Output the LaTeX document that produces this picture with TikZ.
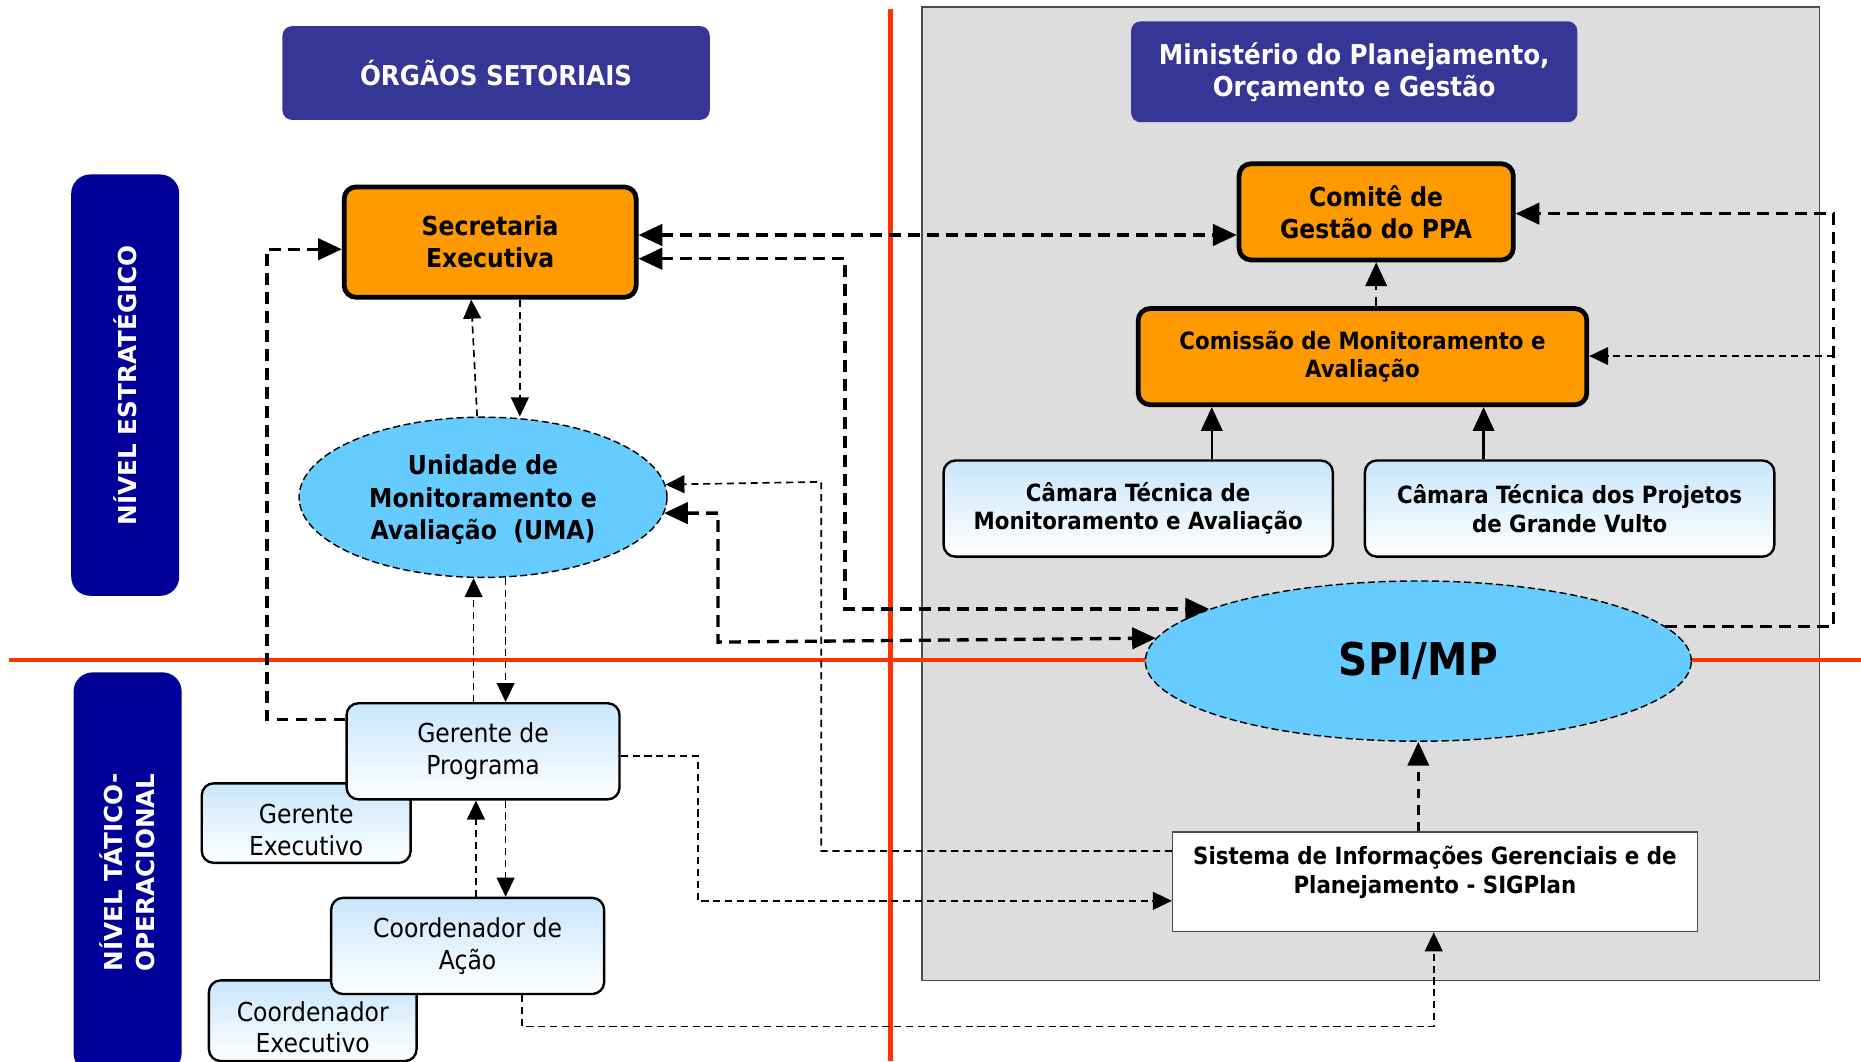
\documentclass[tikz,border=0pt]{standalone}
\usepackage{fontspec}
\setmainfont{DejaVu Sans}
\newfontfamily\tah{DejaVu Sans Condensed}
\usetikzlibrary{arrows.meta,shapes.geometric}
\definecolor{hdrblue}{HTML}{363696}
\definecolor{navy}{HTML}{000099}
\definecolor{orng}{HTML}{FF9900}
\definecolor{skyb}{HTML}{66CCFF}
\definecolor{paleb}{HTML}{C8E6FC}
\definecolor{bggray}{HTML}{DDDDDD}
\definecolor{redl}{HTML}{FF3300}
\begin{document}
\begin{tikzpicture}[x=0.5pt,y=-0.5pt,
  hdr/.style={fill=hdrblue, rounded corners=4pt, text=white, align=center, inner sep=0pt,
    font=\tah\bfseries\fontsize{11.5}{13.5}\selectfont},
  lvl/.style={fill=navy, rounded corners=8pt, text=white, align=center, inner sep=0pt,
    font=\bfseries\fontsize{10.4}{13.5}\selectfont},
  obox/.style={fill=orng, draw=black, line width=2pt, rounded corners=5pt, align=center, inner sep=0pt},
  cbox/.style={top color=paleb, bottom color=white, draw=black, line width=1pt, rounded corners=5pt,
    align=center, inner sep=0pt},
  ell/.style={ellipse, fill=skyb, draw=black, dash pattern=on 3pt off 1.5pt, line width=0.6pt,
    inner sep=0pt, align=center},
  bf11/.style={font=\tah\bfseries\fontsize{11}{13.5}\selectfont},
  bf10/.style={font=\tah\bfseries\fontsize{10}{12}\selectfont},
  rg11/.style={font=\tah\fontsize{11}{13.3}\selectfont},
  thk/.style={dash pattern=on 5pt off 3pt, line width=1.4pt},
  thn/.style={dash pattern=on 3pt off 2pt, line width=0.7pt},
  tipA/.style={-{Triangle[length=10pt,width=9pt]}},
  tipB/.style={{Triangle[length=10pt,width=9pt]}-{Triangle[length=10pt,width=9pt]}},
  tipa/.style={-{Triangle[length=8pt,width=7.5pt]}}
]
\useasboundingbox (0,0) rectangle (1568,894);
% gray ministry area
\fill[bggray] (777,6) rectangle (1533,826);
\draw[gray!60!black, line width=0.6pt] (777,6) rectangle (1533,826);
% red axes
\draw[redl, line width=2pt] (750,8) -- (750,894);
\draw[redl, line width=2pt] (8,556) -- (1568,556);

% headers
\node[hdr, minimum width=180pt, minimum height=39.5pt] (org) at (418,61.5) {ÓRGÃOS SETORIAIS};
\node[hdr, minimum width=188pt, minimum height=42.5pt] (min) at (1141,60.5) {Ministério do Planejamento,\\Orçamento e Gestão};
% levels
\node[lvl, rotate=90, minimum width=177.5pt, minimum height=45.5pt] (ne) at (105.5,324.5) {NÍVEL ESTRATÉGICO};
\node[lvl, rotate=90, minimum width=168.5pt, minimum height=45.5pt] (nt) at (107.5,735) {NÍVEL TÁTICO-\\OPERACIONAL};

% orange boxes
\node[obox, bf11, minimum width=123pt, minimum height=46.5pt] (se) at (413,204) {Secretaria\\Executiva};
\node[obox, bf11, minimum width=115.5pt, minimum height=40.5pt] (ct) at (1159.5,178.5) {Comitê de\\Gestão do PPA};
\node[obox, bf10, minimum width=189pt, minimum height=40.5pt] (cm) at (1148,300.5) {Comissão de Monitoramento e\\Avaliação};
% camaras
\node[cbox, bf10, minimum width=164pt, minimum height=40.5pt] (c1) at (959,428.5) {Câmara Técnica de\\Monitoramento e Avaliação};
\node[cbox, bf10, minimum width=172.5pt, minimum height=40.5pt] (c2) at (1322.5,428.5) {Câmara Técnica dos Projetos\\de Grande Vulto};
% ellipses
\node[ell, minimum width=155pt, minimum height=67.5pt] (uma) at (407,419) {};
\node[bf11, align=center, inner sep=0pt] (umat) at (407,421) {Unidade de\\Monitoramento e\\Avaliação~~(UMA)};
\node[ell, font=\tah\bfseries\fontsize{19}{22}\selectfont, minimum width=230pt, minimum height=67.5pt] (spi) at (1195,557) {SPI/MP};
% tactical boxes
\node[cbox, minimum width=88pt, minimum height=33.5pt] (ge) at (258,693.5) {};
\node[rg11, align=center, inner sep=0pt] (get) at (258,699.5) {Gerente\\Executivo};
\node[cbox, rg11, minimum width=115pt, minimum height=40.5pt] (gp) at (407,633) {Gerente de\\Programa};
\node[cbox, minimum width=87.5pt, minimum height=34pt] (ce) at (263.5,860) {};
\node[rg11, align=center, inner sep=0pt] (cet) at (263.5,865.5) {Coordenador\\Executivo};
\node[cbox, rg11, minimum width=115pt, minimum height=40.5pt] (ca) at (394,797) {Coordenador de\\Ação};
% SIGPlan
\node[fill=white, draw=gray!60!black, line width=0.6pt, minimum width=221pt, minimum height=42pt, inner sep=0pt] (sig) at (1209,743) {};
\node[bf10, align=center, inner sep=0pt] (sigt) at (1209,735) {Sistema de Informações Gerenciais e de\\Planejamento - SIGPlan};

% thick dashed connectors
\draw[thk, tipB] (se.east |- 0,198) -- (ct.west |- 0,198);
\draw[thk, tipB] (se.east |- 0,218) -- (712,218) |- (spi.166.8);
\draw[thk, tipB] (uma.-5.3) -| (605,541) -- (spi.175.9);
\draw[thk, tipA] (spi.8.4) -| (1545,180) -- (ct.east |- 0,180);
\draw[thk, tipA] (gp.west |- 0,606) -| (225,210) -- (se.west |- 0,210);
% thin dashed connectors
\coordinate (r300) at (1545,300);
\draw[thn, tipa] (r300) -- (cm.east |- r300);
\draw[thn, tipa] (sig.west |- 0,717) -| (692,406) -- (uma.4.9);
\draw[thn, tipa] (gp.east |- 0,637) -| (588,759) -- (sig.west |- 0,759);
\draw[thn, tipa] (ca.south -| 440,0) |- (1208,865) -- (sig.south -| 1208,0);
\draw[thn, tipa] (uma.north -| 402,0) -- (se.south -| 397,0);
\draw[thn, tipa] (se.south -| 438,0) -- (uma.north -| 438,0);
\draw[thn, tipa] (gp.north -| 399,0) -- (uma.south -| 399,0);
\draw[thn, tipa] (uma.south -| 426,0) -- (gp.north -| 426,0);
\draw[thn, tipa] (ca.north -| 401,0) -- (gp.south -| 401,0);
\draw[thn, tipa] (gp.south -| 426,0) -- (ca.north -| 426,0);
% medium dashed
\draw[dash pattern=on 4pt off 3pt, line width=1pt, tipA] (sig.north -| spi.south) -- (spi.south);
\draw[dash pattern=on 4pt off 3pt, line width=1pt, tipA] (cm.north -| ct.south) -- (ct.south);
% solid
\draw[line width=1pt, tipA] (c1.north -| 1021,0) -- (cm.south -| 1021,0);
\draw[line width=1pt, tipA] (c2.north -| 1250,0) -- (cm.south -| 1250,0);
\end{tikzpicture}
\end{document}
